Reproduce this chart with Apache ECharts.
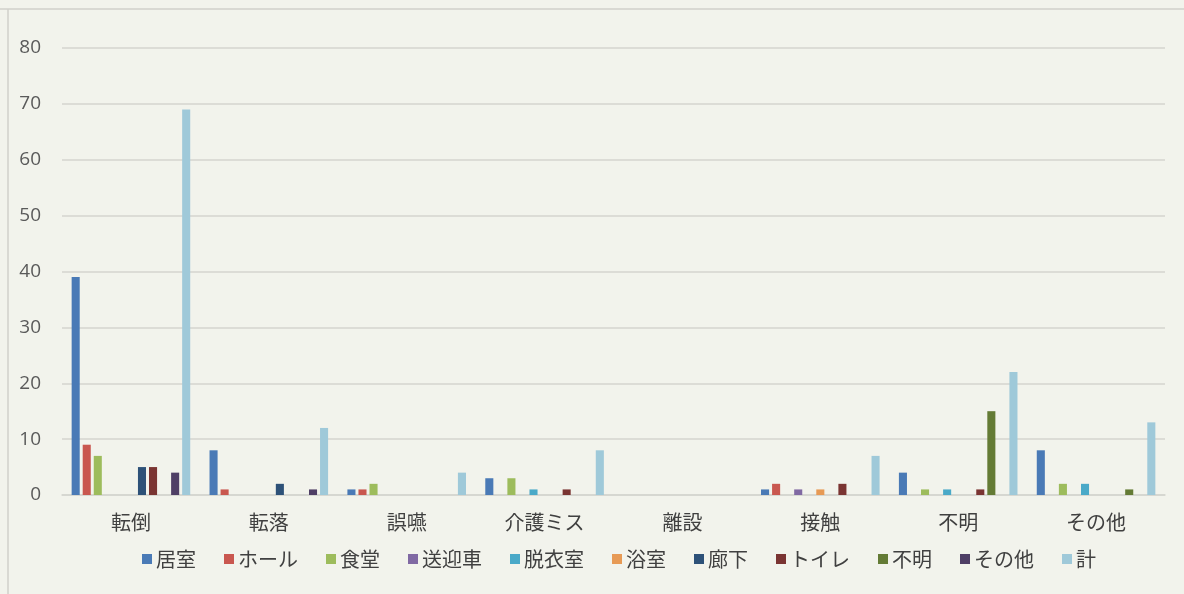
<!DOCTYPE html>
<html><head><meta charset="utf-8">
<script src="https://cdn.jsdelivr.net/npm/echarts@6/dist/echarts.min.js"></script>
<style>html,body{margin:0;padding:0;background:#f2f3ec;}#c{width:1184px;height:594px;}</style>
</head><body><div id="c"></div>
<script>
const categories = ['転倒','転落','誤嚥','介護ミス','離設','接触','不明','その他'];
const seriesNames = ['居室','ホール','食堂','送迎車','脱衣室','浴室','廊下','トイレ','不明','その他','計'];
const s_kyoshitsu = [39, 8, 1, 3, 0, 1, 4, 8];
const s_hall      = [9, 1, 1, 0, 0, 2, 0, 0];
const s_shokudo   = [7, 0, 2, 3, 0, 0, 1, 2];
const s_sogeisha  = [0, 0, 0, 0, 0, 1, 0, 0];
const s_datsuishitsu = [0, 0, 0, 1, 0, 0, 1, 2];
const s_yokushitsu = [0, 0, 0, 0, 0, 1, 0, 0];
const s_roka      = [5, 2, 0, 0, 0, 0, 0, 0];
const s_toilet    = [5, 0, 0, 1, 0, 2, 1, 0];
const s_fumei     = [0, 0, 0, 0, 0, 0, 15, 1];
const s_sonota    = [4, 1, 0, 0, 0, 0, 0, 0];
const s_kei       = [69, 12, 4, 8, 0, 7, 22, 13];
const yTicks = [0,10,20,30,40,50,60,70,80];
const allData = [s_kyoshitsu,s_hall,s_shokudo,s_sogeisha,s_datsuishitsu,s_yokushitsu,s_roka,s_toilet,s_fumei,s_sonota,s_kei];
const colors = ['#4a7ab6','#c9574f','#9dbc5c','#8069a3','#4aa9c8','#e79a55','#2d5178','#7a3432','#647b35','#4f3f66','#9fc9d9'];

const chart = echarts.init(document.getElementById('c'));
const font = '"Noto Sans CJK JP", "Noto Sans", sans-serif';
chart.setOption({
  backgroundColor: '#f2f3ec',
  color: colors,
  animation: false,
  textStyle: {fontFamily: font},
  grid: {left: 62, right: 19, top: 48, bottom: 99},
  legend: {
    data: seriesNames, bottom: 20, left: 137, itemWidth: 10, itemHeight: 10, itemGap: 28,
    icon: 'rect',
    textStyle: {fontSize: 20, color: '#404040', fontFamily: font, padding: [0,0,0,-1]}
  },
  xAxis: {
    type: 'category', data: categories,
    axisLine: {show: true, lineStyle: {color: '#d4d5cf', width: 1.5}},
    axisTick: {show: false},
    axisLabel: {fontSize: 20, color: '#404040', margin: 17, fontFamily: font}
  },
  yAxis: {
    type: 'value', min: 0, max: 80, interval: 10,
    axisLine: {show: false}, axisTick: {show: false},
    splitLine: {lineStyle: {color: '#d4d5cf', width: 1.5}},
    axisLabel: {fontSize: 19, color: '#5a5a5a', margin: 21, fontFamily: '"Open Sans", "Noto Sans", sans-serif',
      formatter: v => yTicks.includes(v) ? String(v) : ''}
  },
  graphic: [
    {type: 'line', shape: {x1: 0, y1: 9, x2: 1184, y2: 9}, style: {stroke: '#d0d1cb', lineWidth: 1.5}},
    {type: 'line', shape: {x1: 8, y1: 9, x2: 8, y2: 594}, style: {stroke: '#d0d1cb', lineWidth: 1.5}}
  ],
  series: seriesNames.map((n, i) => ({
    name: n, type: 'bar', data: allData[i],
    barGap: '37%', barCategoryGap: '14%'
  }))
});
</script></body></html>
